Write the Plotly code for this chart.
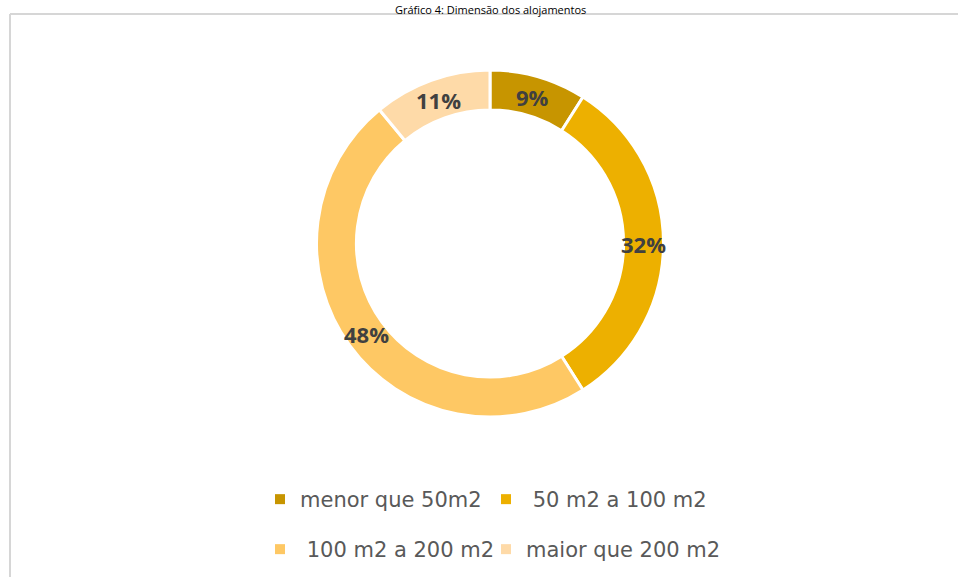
import math
import plotly.graph_objects as go

labels = ["menor que 50m2", " 50 m2 a 100 m2", " 100 m2 a 200 m2", "maior que 200 m2"]
values = [9, 32, 48, 11]
colors = ["#C79500", "#EDB000", "#FEC864", "#FEDAA8"]
title_text = "Gráfico 4: Dimensão dos alojamentos"

W, H = 958, 577

def px_x(x):
    return x / W

def px_y(y):
    return 1 - y / H

cx, cy, R = 490, 243.5, 173.5
r_text = 153

fig = go.Figure()
fig.add_trace(go.Pie(
    labels=labels,
    values=values,
    hole=0.77,
    sort=False,
    direction="clockwise",
    rotation=0,
    marker=dict(colors=colors, line=dict(color="white", width=3)),
    textinfo="none",
    showlegend=False,
    hoverinfo="label+percent",
    domain=dict(x=[px_x(cx - R), px_x(cx + R)], y=[px_y(cy + R), px_y(cy - R)]),
))

# legend keys: 2 x 2 grid, as in the reference
legend_names = ["legend", "legend2", "legend3", "legend4"]
legend_left_px = [260, 486, 260, 486]
legend_top_px = [479, 479, 529, 529]

for lab, col, lg in zip(labels, colors, legend_names):
    fig.add_trace(go.Scatter(
        x=[None], y=[None], mode="markers", name=lab, legend=lg,
        marker=dict(symbol="square", size=10, color=col),
        hoverinfo="skip",
    ))

# percentage labels at the middle of each ring segment
total = sum(values)
annotations = []
start = 0.0
for v in values:
    mid = (start + v / 2) / total * 2 * math.pi
    start += v
    tx = cx + r_text * math.sin(mid)
    ty = cy + 0.5 - r_text * math.cos(mid)
    annotations.append(dict(
        text=f"{round(100 * v / total)}%", xref="paper", yref="paper",
        x=px_x(tx), y=px_y(ty), xanchor="center", yanchor="middle",
        showarrow=False,
        font=dict(family="Open Sans", size=22, color="#404040", weight="bold"),
    ))

annotations.append(dict(
    text=title_text, xref="paper", yref="paper",
    x=px_x(490), y=px_y(0), xanchor="center", yanchor="top",
    showarrow=False, font=dict(family="Open Sans", size=11, color="#000000"),
))

legend_layouts = {}
for lg, lx, ly in zip(legend_names, legend_left_px, legend_top_px):
    legend_layouts[lg] = dict(
        orientation="h",
        x=px_x(lx), y=px_y(ly),
        xanchor="left", yanchor="top",
        font=dict(family="DejaVu Sans", size=21, color="#595959"),
        bgcolor="rgba(0,0,0,0)",
    )

fig.update_layout(
    width=W, height=H,
    margin=dict(l=0, r=0, t=0, b=0),
    paper_bgcolor="white",
    plot_bgcolor="white",
    xaxis=dict(visible=False),
    yaxis=dict(visible=False),
    annotations=annotations,
    shapes=[
        dict(type="line", xref="paper", yref="paper",
             x0=px_x(10), x1=1, y0=px_y(14), y1=px_y(14),
             line=dict(color="#D6D6D6", width=2), layer="below"),
        dict(type="line", xref="paper", yref="paper",
             x0=px_x(10), x1=px_x(10), y0=px_y(14), y1=0,
             line=dict(color="#D6D6D6", width=2), layer="below"),
    ],
    **legend_layouts,
)

fig.write_html("out.html", config={"displayModeBar": False},
               post_script="document.body.style.margin='0';")
